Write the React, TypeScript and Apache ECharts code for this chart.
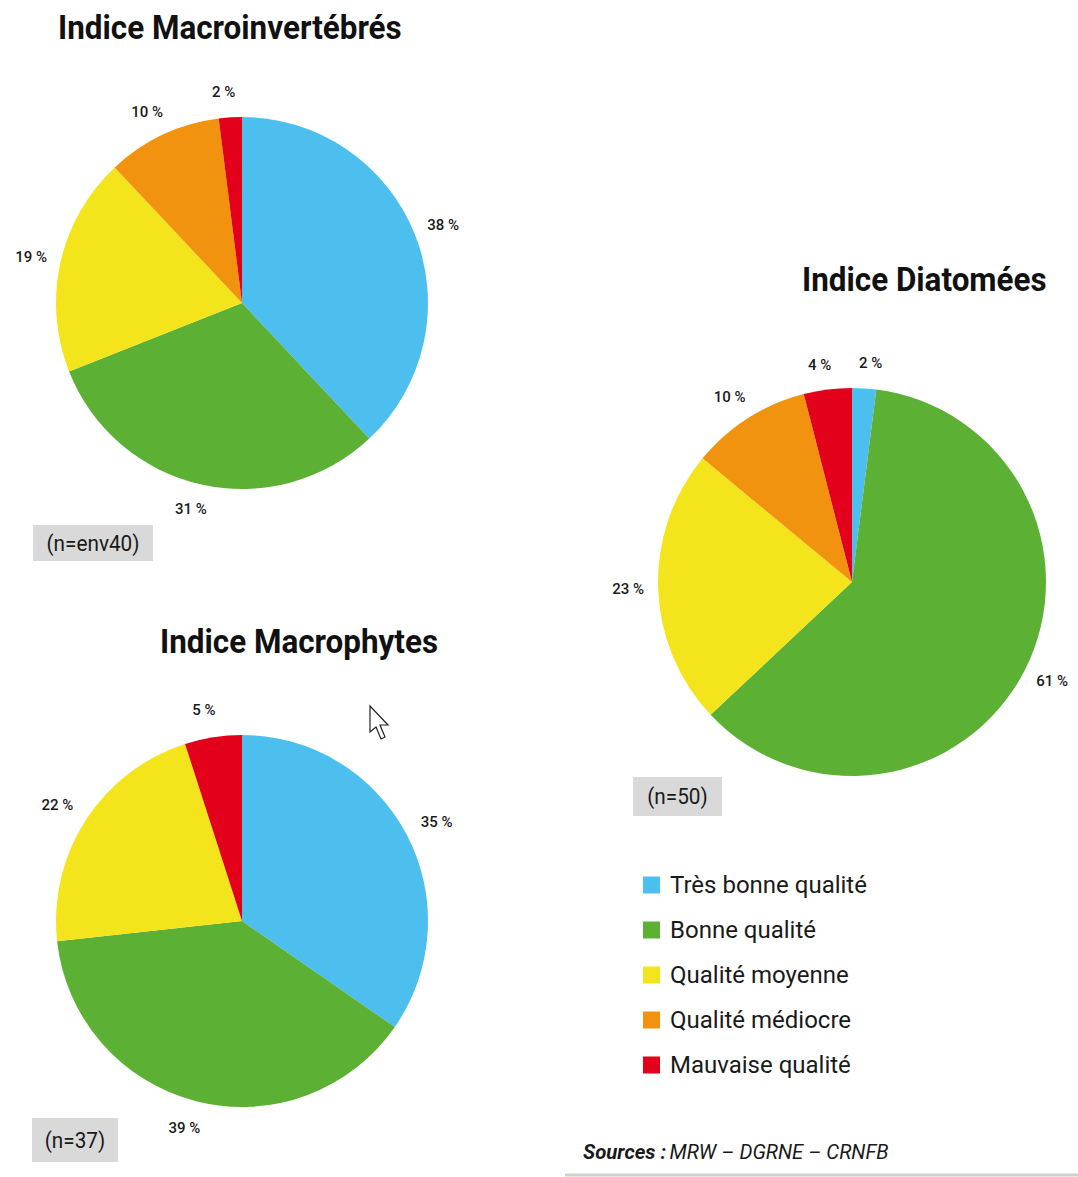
import React, { useEffect, useRef } from 'react';
import * as echarts from 'echarts';

const categories = ['Très bonne qualité', 'Bonne qualité', 'Qualité moyenne', 'Qualité médiocre', 'Mauvaise qualité'];
const colors = ['#4dbfee', '#5cb135', '#f4e41c', '#f1930f', '#e2001a'];
const macroinvertebres = [38, 31, 19, 10, 2];
const macrophytes = [35, 39, 22, 0, 5];
const diatomees = [2, 61, 23, 10, 4];
const titles = ['Indice Macroinvertébrés', 'Indice Macrophytes', 'Indice Diatomées'];
const sampleSizes = ['(n=env40)', '(n=37)', '(n=50)'];
const sourceLabel = 'Sources :';
const sourceText = 'MRW – DGRNE – CRNFB';

const FONT = "Roboto, 'Liberation Sans', sans-serif";

function measure(text: string, font: string): number {
  const ctx = document.createElement('canvas').getContext('2d');
  if (!ctx) return text.length * 10;
  ctx.font = font;
  return ctx.measureText(text).width;
}

function mkSeries(name: string, values: number[], center: [number, number], radius: number, len: number) {
  return {
    type: 'pie',
    name,
    center,
    radius,
    startAngle: 90,
    clockwise: true,
    avoidLabelOverlap: false,
    silent: true,
    emphasis: { disabled: true },
    label: {
      show: true,
      position: 'outside',
      formatter: '{c} %',
      fontFamily: FONT,
      fontSize: 15,
      fontWeight: 500,
      color: '#1a1a1a',
    },
    labelLine: { show: false, length: len, length2: 0 },
    labelLayout: (p: any) => ({
      dx: p.align === 'left' ? -p.labelRect.width / 2 : p.align === 'right' ? p.labelRect.width / 2 : 0,
    }),
    itemStyle: { borderWidth: 0 },
    data: values.map((v, i) => ({
      name: categories[i],
      value: v,
      itemStyle: { color: colors[i] },
      label: v === 0 ? { show: false } : undefined,
    })),
  };
}

export default function App() {
  const ref = useRef<HTMLDivElement>(null);
  useEffect(() => {
    if (!ref.current) return;
    const chart = echarts.init(ref.current, undefined, { renderer: 'svg' });

    const titleFont = `bold 34px Roboto`;
    const titleScale = 344 / measure(titles[0], titleFont);
    const boxFont = `22px Roboto`;
    const boxScale = 93 / measure(sampleSizes[0], boxFont);

    const titleText = (x: number, y: number, text: string) => ({
      type: 'text',
      x,
      y,
      scaleX: titleScale,
      style: { text, fontFamily: 'Roboto', fontWeight: 'bold', fontSize: 34, fill: '#111', verticalAlign: 'middle' },
    });

    const nBox = (x: number, y: number, w: number, h: number, text: string) => ({
      type: 'group',
      x,
      y,
      children: [
        { type: 'rect', shape: { x: 0, y: 0, width: w, height: h }, style: { fill: '#d9d9d9' } },
        {
          type: 'text',
          x: w / 2,
          y: h / 2,
          scaleX: boxScale,
          style: { text, fontFamily: 'Roboto', fontSize: 22, fill: '#1a1a1a', align: 'center', verticalAlign: 'middle' },
        },
      ],
    });

    chart.setOption({
      animation: false,
      backgroundColor: '#ffffff',
      legend: {
        data: categories,
        orient: 'vertical',
        left: 638,
        top: 868,
        icon: 'rect',
        itemWidth: 17,
        itemHeight: 17,
        itemGap: 21,
        selectedMode: false,
        textStyle: { fontFamily: FONT, fontSize: 24, color: '#1a1a1a', padding: [0, 0, 0, 5] },
      },
      series: [
        mkSeries(titles[0], macroinvertebres, [242, 303], 186, 25),
        mkSeries(titles[1], macrophytes, [242, 921], 186, 28),
        mkSeries(titles[2], diatomees, [852, 582], 194, 25),
      ],
      graphic: [
        titleText(58, 28, titles[0]),
        titleText(160, 642, titles[1]),
        titleText(802, 280, titles[2]),
        nBox(33, 525, 120, 36, sampleSizes[0]),
        nBox(32, 1118, 86, 44, sampleSizes[1]),
        nBox(633, 777, 89, 39, sampleSizes[2]),
        {
          type: 'text',
          x: 583,
          y: 1152,
          scaleX: 0.97,
          style: {
            text: `{b|${sourceLabel}} {i|${sourceText}}`,
            verticalAlign: 'middle',
            rich: {
              b: { fontFamily: 'Roboto', fontSize: 21, fontWeight: 'bold', fontStyle: 'italic', fill: '#1a1a1a' },
              i: { fontFamily: 'Roboto', fontSize: 21, fontStyle: 'italic', fill: '#1a1a1a' },
            },
          },
        },
        { type: 'line', shape: { x1: 565, y1: 1175, x2: 1078, y2: 1175 }, style: { stroke: '#cdd3c8', lineWidth: 3 } },
        {
          type: 'polygon',
          shape: { points: [[370, 706], [370, 732], [376, 727], [381, 739], [385, 737], [380, 725], [388, 725]] },
          style: { fill: '#ffffff', stroke: '#222', lineWidth: 1.2 },
        },
      ],
    });
    return () => chart.dispose();
  }, []);
  return <div ref={ref} style={{ position: 'absolute', left: 0, top: 0, width: 1078, height: 1177 }} />;
}
